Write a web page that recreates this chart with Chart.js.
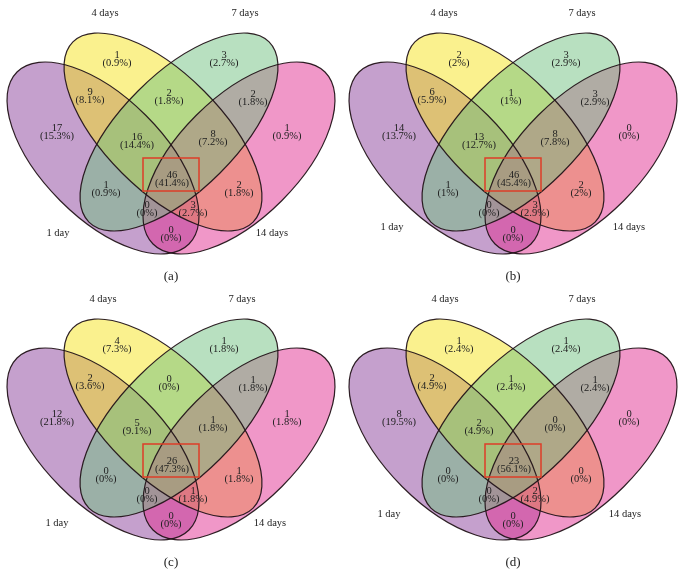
<!DOCTYPE html>
<html>
<head>
<meta charset="utf-8">
<script src="https://cdn.jsdelivr.net/npm/chart.js@4/dist/chart.umd.min.js"></script>
<style>
  html, body { margin: 0; padding: 0; background: #fff; }
  #wrap { position: relative; width: 684px; height: 588px; }
  .panel { position: absolute; width: 342px; height: 302px; }
</style>
</head>
<body>
<div id="wrap">
  <div class="panel" style="left:0;top:0"><canvas id="venn-a" width="342" height="302"></canvas></div>
  <div class="panel" style="left:342px;top:0"><canvas id="venn-b" width="342" height="302"></canvas></div>
  <div class="panel" style="left:0;top:286px"><canvas id="venn-c" width="342" height="302"></canvas></div>
  <div class="panel" style="left:342px;top:286px"><canvas id="venn-d" width="342" height="302"></canvas></div>
</div>
<script>
// Sets and the 15 Venn regions (same order in every count / percent array)
const setNames = ['1 day', '4 days', '7 days', '14 days'];
const regionKeys = ['1', '4', '7', '14', '1-4', '4-7', '7-14', '1-4-7', '4-7-14',
  '1-4-7-14', '1-7', '4-14', '1-7-14', '1-4-14', '1-14'];

const countsA = [17, 1, 3, 1, 9, 2, 2, 16, 8, 46, 1, 2, 0, 3, 0];
const pctA = [15.3, 0.9, 2.7, 0.9, 8.1, 1.8, 1.8, 14.4, 7.2, 41.4, 0.9, 1.8, 0, 2.7, 0];

const countsB = [14, 2, 3, 0, 6, 1, 3, 13, 8, 46, 1, 2, 0, 3, 0];
const pctB = [13.7, 2, 2.9, 0, 5.9, 1, 2.9, 12.7, 7.8, 45.4, 1, 2, 0, 2.9, 0];

const countsC = [12, 4, 1, 1, 2, 0, 1, 5, 1, 26, 0, 1, 0, 1, 0];
const pctC = [21.8, 7.3, 1.8, 1.8, 3.6, 0, 1.8, 9.1, 1.8, 47.3, 0, 1.8, 0, 1.8, 0];

const countsD = [8, 1, 1, 0, 2, 1, 1, 2, 0, 23, 0, 0, 0, 2, 0];
const pctD = [19.5, 2.4, 2.4, 0, 4.9, 2.4, 2.4, 4.9, 0, 56.1, 0, 0, 0, 4.9, 0];

const panelTags = ['(a)', '(b)', '(c)', '(d)'];

// Layout (panel units = pixels)
const W = 342, H = 302;
const labelPos = [
  [57, 132], [117, 59], [224, 59], [287, 132], [90, 96], [169, 97], [253, 98],
  [137, 141], [213, 138], [172, 179], [106, 189], [239, 189], [147, 209], [193, 209], [171, 234]
];
// ellipses in draw order: 1 day, 4 days, 14 days, 7 days
const ellipses = [
  { set: 0, cx: 103, cy: 158, a: 121.6, b: 60.4, rot: Math.PI / 4, color: '140, 66, 156' },
  { set: 1, cx: 163, cy: 132, a: 127.4, b: 58, rot: Math.PI / 4, color: '246, 228, 30' },
  { set: 3, cx: 239, cy: 158, a: 121.6, b: 60.4, rot: -Math.PI / 4, color: '226, 48, 146' },
  { set: 2, cx: 179, cy: 132, a: 127.4, b: 58, rot: -Math.PI / 4, color: '114, 194, 130' }
];
// set name label positions per panel: [1 day, 4 days, 7 days, 14 days]
const setLabelPos = [
  [[58, 233], [105, 13], [245, 13], [272, 233]],
  [[50, 227], [102, 13], [240, 13], [287, 227]],
  [[57, 237], [103, 13], [242, 13], [270, 237]],
  [[47, 228], [103, 13], [240, 13], [283, 228]]
];
const tagY = 277;
const centerBox = { x0: 143, y0: 158, x1: 199, y1: 191 };

const FONT = '10.5px "Liberation Serif", "DejaVu Serif", serif';
const TEXT = '#222';

const vennPlugin = {
  id: 'venn',
  beforeDatasetsDraw(chart, args, opts) {
    const { ctx, scales: { x, y } } = chart;
    const sx = Math.abs(x.getPixelForValue(1) - x.getPixelForValue(0));
    const sy = Math.abs(y.getPixelForValue(1) - y.getPixelForValue(0));
    ctx.save();
    ellipses.forEach(e => {
      ctx.beginPath();
      ctx.ellipse(x.getPixelForValue(e.cx), y.getPixelForValue(e.cy), e.a * sx, e.b * sy, e.rot, 0, Math.PI * 2);
      ctx.fillStyle = 'rgba(' + e.color + ', 0.5)';
      ctx.fill();
    });
    ctx.strokeStyle = 'rgba(35, 20, 25, 0.95)';
    ctx.lineWidth = 1.2;
    ellipses.forEach(e => {
      ctx.beginPath();
      ctx.ellipse(x.getPixelForValue(e.cx), y.getPixelForValue(e.cy), e.a * sx, e.b * sy, e.rot, 0, Math.PI * 2);
      ctx.stroke();
    });
    // red box round the core region
    ctx.strokeStyle = 'rgb(222, 62, 40)';
    ctx.lineWidth = 1.5;
    const bx = x.getPixelForValue(centerBox.x0), by = y.getPixelForValue(centerBox.y0);
    ctx.strokeRect(bx, by, x.getPixelForValue(centerBox.x1) - bx, y.getPixelForValue(centerBox.y1) - by);
    ctx.restore();
  },
  afterDatasetsDraw(chart, args, opts) {
    const { ctx, scales: { x, y } } = chart;
    ctx.save();
    ctx.font = FONT;
    ctx.fillStyle = TEXT;
    ctx.textAlign = 'center';
    ctx.textBaseline = 'middle';
    const meta = chart.getDatasetMeta(0);
    meta.data.forEach((pt, i) => {
      ctx.fillText(String(opts.counts[i]), pt.x, pt.y - 4);
      ctx.fillText('(' + opts.pcts[i] + '%)', pt.x, pt.y + 4.5);
    });
    setNames.forEach((name, i) => {
      const p = setLabelPos[opts.panel][i];
      ctx.fillText(name, x.getPixelForValue(p[0]), y.getPixelForValue(p[1]));
    });
    ctx.font = '13px "Liberation Serif", "DejaVu Serif", serif';
    ctx.fillText(panelTags[opts.panel], x.getPixelForValue(W / 2), y.getPixelForValue(tagY));
    ctx.restore();
  }
};

function drawVenn(canvasId, panel, counts, pcts) {
  const ctx = document.getElementById(canvasId).getContext('2d');
  return new Chart(ctx, {
    type: 'scatter',
    data: {
      labels: regionKeys,
      datasets: [{
        data: labelPos.map(p => ({ x: p[0], y: p[1] })),
        pointRadius: 0,
        pointHoverRadius: 0
      }]
    },
    options: {
      responsive: false,
      animation: false,
      layout: { padding: 0 },
      scales: {
        x: { type: 'linear', min: 0, max: W, display: false },
        y: { type: 'linear', min: 0, max: H, reverse: true, display: false }
      },
      plugins: {
        legend: { display: false },
        tooltip: { enabled: false },
        venn: { panel: panel, counts: counts, pcts: pcts }
      }
    },
    plugins: [vennPlugin]
  });
}

drawVenn('venn-a', 0, countsA, pctA);
drawVenn('venn-b', 1, countsB, pctB);
drawVenn('venn-c', 2, countsC, pctC);
drawVenn('venn-d', 3, countsD, pctD);
</script>
</body>
</html>
